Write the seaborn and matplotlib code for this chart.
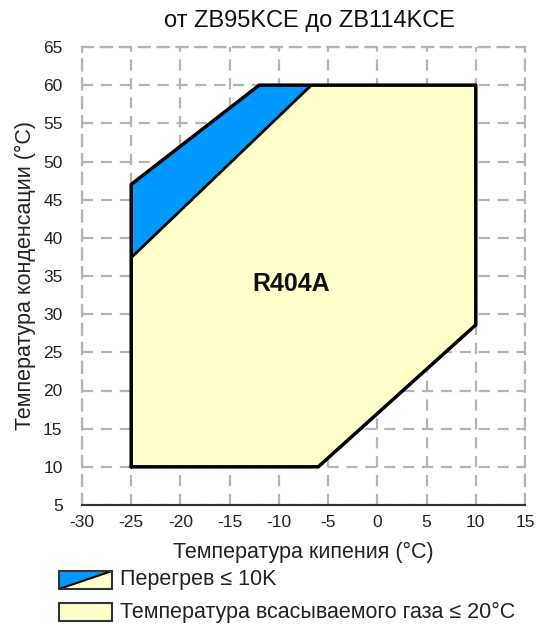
import matplotlib
matplotlib.use("Agg")
import matplotlib.pyplot as plt
from matplotlib.patches import Rectangle, Polygon
import seaborn as sns
import pandas as pd

sns.set_style("white")
plt.rcParams['font.family'] = ['Liberation Sans', 'DejaVu Sans']

# Operating envelope (evaporating temp, condensing temp)
envelope_x = [-25, -25, -12, 10, 10, -6, -25]
envelope_y = [10, 47, 60, 60, 28.6, 10, 10]
# Superheat <= 10K region (blue)
superheat_x = [-25, -25, -12, -6.7, -25]
superheat_y = [37.4, 47, 60, 60, 37.4]
# Divider line
divider_x = [-25, -6.7]
divider_y = [37.4, 60]

title = "от ZB95KCE до ZB114KCE"
refrigerant = "R404A"
xlabel = "Температура кипения (°C)"
ylabel = "Температура конденсации (°C)"
legend_labels = ["Перегрев ≤ 10K", "Температура всасываемого газа ≤ 20°C"]
x_ticks = list(range(-30, 16, 5))
y_ticks = list(range(5, 66, 5))

BLUE = "#0099FF"
YELLOW = "#FFFFCC"
TXT = "#222222"

W, H = 542, 628
def fx(p): return p / W
def fy(p): return 1 - p / H

fig = plt.figure(figsize=(5.42, 6.28), dpi=100)
ax = fig.add_axes([82/542, 1-505/628, (525-82)/542, (505-47)/628])

ax.fill(envelope_x, envelope_y, color=YELLOW, zorder=2, lw=0)
ax.fill(superheat_x, superheat_y, color=BLUE, zorder=3, lw=0)

df_env = pd.DataFrame({"x": envelope_x, "y": envelope_y})
sns.lineplot(data=df_env, x="x", y="y", sort=False, estimator=None, color="black",
             lw=2.5, ax=ax, zorder=5)
df_div = pd.DataFrame({"x": divider_x, "y": divider_y})
sns.lineplot(data=df_div, x="x", y="y", sort=False, estimator=None, color="black",
             lw=2.0, ax=ax, zorder=5)

ax.set_xlim(-30, 15)
ax.set_ylim(5, 65)
ax.set_xticks(x_ticks)
ax.set_yticks(y_ticks)
ax.set_xticklabels([str(t) for t in x_ticks], fontsize=12.5, color=TXT)
ax.set_yticklabels([str(t) for t in y_ticks], fontsize=12.5, color=TXT)

ax.grid(True, color="#B4B4B4", linestyle=(0, (5, 3.5)), lw=1.6, zorder=1)
ax.set_axisbelow(True)
for s in ["top", "right", "left"]:
    ax.spines[s].set_color("#B4B4B4")
    ax.spines[s].set_linestyle((0, (5, 3.5)))
    ax.spines[s].set_linewidth(1.6)
ax.spines["bottom"].set_color("#333333")
ax.spines["bottom"].set_linewidth(1.5)
ax.tick_params(axis="x", direction="inout", length=9, width=1.2, color="#333333", pad=3)
ax.tick_params(axis="y", length=0, pad=14)

ax.set_xlabel(xlabel, fontsize=15.5, color=TXT)
ax.xaxis.set_label_coords(0.5, (505 - 552) / 458)
ax.xaxis.label.set_va("center")
ax.set_ylabel(ylabel, fontsize=15.5, color=TXT)
ax.yaxis.set_label_coords((25 - 82) / 443, 0.5)
ax.yaxis.label.set_va("center")

fig.text(fx(310), fy(21), title, fontsize=17, color="#111111", ha="center", va="center")

ax.text(-8.8, 34, refrigerant, fontsize=18, fontweight="bold", ha="center", va="center",
        color="#111111", zorder=6)

# Legend (figure coordinates)
x0, x1, yt, yb = 59, 112, 571, 589
fig.patches.append(Polygon([(fx(x0), fy(yb)), (fx(x1), fy(yt)), (fx(x1), fy(yb))], closed=True,
                           transform=fig.transFigure, facecolor=YELLOW, edgecolor="none"))
fig.patches.append(Polygon([(fx(x0), fy(yb)), (fx(x0), fy(yt)), (fx(x1), fy(yt))], closed=True,
                           transform=fig.transFigure, facecolor=BLUE, edgecolor="none"))
fig.patches.append(Polygon([(fx(x0), fy(yb)), (fx(x1), fy(yt))], closed=False,
                           transform=fig.transFigure, fill=False, edgecolor="black", lw=1.5))
fig.patches.append(Rectangle((fx(x0), fy(yb)), fx(x1) - fx(x0), fy(yt) - fy(yb),
                             transform=fig.transFigure, fill=False, edgecolor="#333333", lw=1.5))
fig.text(fx(120), fy(580), legend_labels[0], fontsize=15.5, color=TXT, va="center", ha="left")
yt2, yb2 = 603, 621
fig.patches.append(Rectangle((fx(x0), fy(yb2)), fx(x1) - fx(x0), fy(yt2) - fy(yb2),
                             transform=fig.transFigure, facecolor=YELLOW, edgecolor="#333333", lw=1.5))
fig.text(fx(120), fy(612), legend_labels[1], fontsize=15.5, color=TXT, va="center", ha="left")

fig.savefig("out.png", dpi=100)
